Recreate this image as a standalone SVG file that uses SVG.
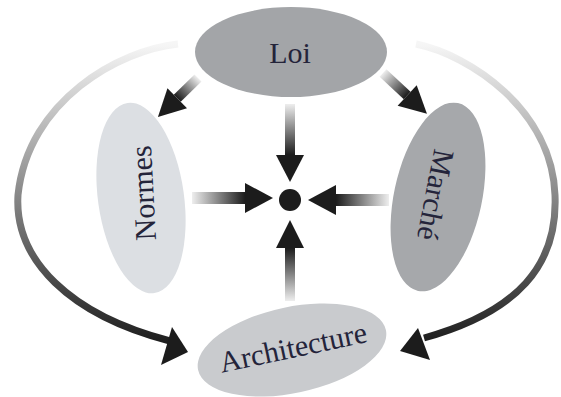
<svg xmlns="http://www.w3.org/2000/svg" width="561" height="397" viewBox="0 0 561 397">
<style>
.lbl{font-family:"Liberation Serif","Times New Roman",serif;font-size:30px;fill:#24243a;text-anchor:middle;dominant-baseline:central}
.head{fill:#1c1c1c}
.shaft{fill:url(#sg)}
.arc{fill:none;stroke-width:7;stroke-linecap:butt}
</style>
<defs>
<linearGradient id="sg" x1="0" y1="0" x2="1" y2="0">
<stop offset="0" stop-color="#eeeeee"/>
<stop offset="1" stop-color="#1c1c1c"/>
</linearGradient>
<linearGradient id="ag" gradientUnits="userSpaceOnUse" x1="0" y1="44" x2="0" y2="345">
<stop offset="0" stop-color="#f6f6f6"/>
<stop offset="0.45" stop-color="#939393"/>
<stop offset="1" stop-color="#1c1c1c"/>
</linearGradient>
</defs>
<rect width="561" height="397" fill="#ffffff"/>
<g id="connectors">
<path class="arc" stroke="url(#ag)" d="M178,44 C120,50 28,100 18,195 C14,260 70,315 170,341"/>
<polygon class="head" points="188,352 161,365 172,327"/>
<path class="arc" stroke="url(#ag)" d="M416,44 C470,55 552,110 555,195 C558,265 518,312 424,338"/>
<polygon class="head" points="400,351 418,328 430,360"/>
<g transform="translate(290,104) rotate(90)"><rect class="shaft" x="0" y="-5" width="51" height="10"/><polygon class="head" points="51,-14 78,0 51,14"/></g>
<g transform="translate(389,200) rotate(180)"><rect class="shaft" x="0" y="-6" width="53" height="12"/><polygon class="head" points="53,-15 81,0 53,15"/></g>
<g transform="translate(192,198)"><rect class="shaft" x="0" y="-6" width="53" height="12"/><polygon class="head" points="53,-15 81,0 53,15"/></g>
<g transform="translate(290,301) rotate(-90)"><rect class="shaft" x="0" y="-5" width="53" height="10"/><polygon class="head" points="53,-14 81,0 53,14"/></g>
<g transform="translate(198,78) rotate(135.7)"><rect class="shaft" x="0" y="-5" width="29" height="10"/><polygon class="head" points="29,-14 56,0 29,14"/></g>
<g transform="translate(383,73) rotate(42.9)"><rect class="shaft" x="0" y="-5" width="33" height="10"/><polygon class="head" points="33,-14 60,0 33,14"/></g>
</g>
<g id="center"><circle cx="290" cy="200" r="11" fill="#1c1c1c"/></g>
<g id="loi"><ellipse cx="291" cy="52" rx="96" ry="45" fill="#a3a5a8"/><text class="lbl" x="290" y="52">Loi</text></g>
<g id="normes"><ellipse cx="141" cy="198" rx="43" ry="96" transform="rotate(-8 141 198)" fill="#dcdfe3"/><text class="lbl" x="143" y="193" transform="rotate(-93 143 193)">Normes</text></g>
<g id="marche"><ellipse cx="438" cy="197" rx="44" ry="96" transform="rotate(12 438 197)" fill="#a6a8ab"/><text class="lbl" x="436" y="195" transform="rotate(101 436 195)">Marché</text></g>
<g id="architecture"><ellipse cx="292" cy="350" rx="96" ry="43" transform="rotate(-12 292 350)" fill="#c9cbce"/><text class="lbl" x="293" y="347" transform="rotate(-12 293 347)">Architecture</text></g>
</svg>
